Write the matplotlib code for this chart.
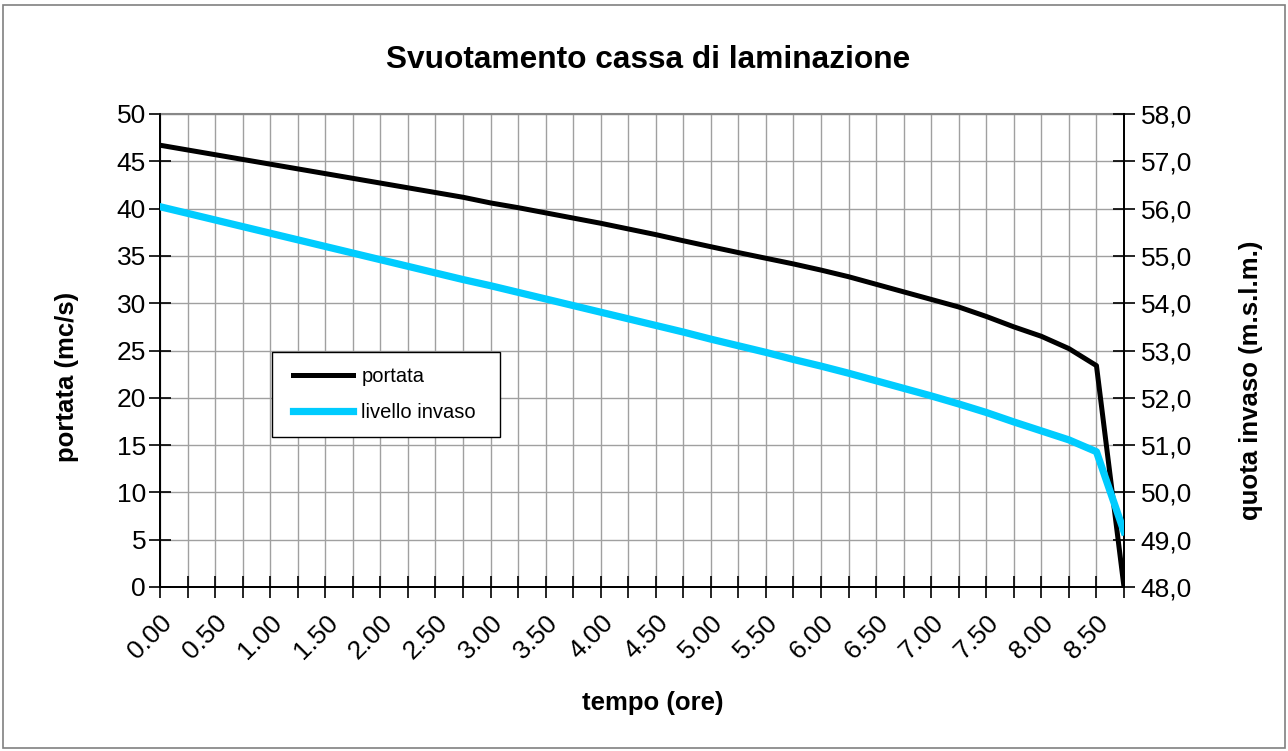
import matplotlib
matplotlib.use("Agg")
import matplotlib.pyplot as plt
from matplotlib.patches import Rectangle
from matplotlib.ticker import FuncFormatter
import numpy as np

plt.rcParams['font.family'] = ['Liberation Sans', 'DejaVu Sans']

# tempo (ore), un punto ogni 0.25 ore
tempo = [0.00, 0.25, 0.50, 0.75, 1.00, 1.25, 1.50, 1.75, 2.00, 2.25, 2.50, 2.75,
         3.00, 3.25, 3.50, 3.75, 4.00, 4.25, 4.50, 4.75, 5.00, 5.25, 5.50, 5.75,
         6.00, 6.25, 6.50, 6.75, 7.00, 7.25, 7.50, 7.75, 8.00, 8.25, 8.50, 8.75]

# portata (mc/s)
portata = [46.7, 46.2, 45.7, 45.2, 44.7, 44.2, 43.7, 43.2, 42.7, 42.2, 41.7, 41.2,
           40.6, 40.1, 39.55, 39.0, 38.45, 37.85, 37.25, 36.6, 35.97, 35.35, 34.75, 34.15,
           33.5, 32.8, 32.0, 31.2, 30.4, 29.6, 28.6, 27.5, 26.5, 25.2, 23.4, 0.0]

# quota invaso (m.s.l.m.)
livello = [56.04, 55.90, 55.76, 55.62, 55.48, 55.34, 55.20, 55.06, 54.92, 54.78, 54.64, 54.50,
           54.37, 54.23, 54.09, 53.95, 53.81, 53.67, 53.53, 53.39, 53.24, 53.10, 52.96, 52.81,
           52.67, 52.52, 52.36, 52.20, 52.04, 51.87, 51.69, 51.49, 51.30, 51.11, 50.86, 49.17]

x = np.arange(len(tempo))
W, H = 1288, 751

fig = plt.figure(figsize=(12.88, 7.51), dpi=100)
ax = fig.add_axes([160/W, 1-587/H, (1124-160)/W, (587-114)/H])
ax2 = ax.twinx()

# bordo esterno del grafico
fig.patches.append(Rectangle((3/W, 3/H), 1282/W, 743/H, transform=fig.transFigure,
                             fill=False, edgecolor='#808080', linewidth=1.2))

l1, = ax.plot(x, portata, color='black', linewidth=3.6, label='portata', zorder=3)
l2, = ax2.plot(x, livello, color='#00CCFF', linewidth=5.2, label='livello invaso', zorder=3)

ax.set_xlim(0, len(tempo) - 1)
ax.set_ylim(0, 50)
ax2.set_ylim(48, 58)
ax.set_yticks(np.arange(0, 51, 5))
ax2.set_yticks(np.arange(48, 58.1, 1))
ax2.yaxis.set_major_formatter(FuncFormatter(lambda v, p: f"{v:.1f}".replace('.', ',')))

ax.set_xticks(x)
ax.set_xticklabels([f"{t:.2f}" if i % 2 == 0 and i < len(tempo) - 1 else "" for i, t in enumerate(tempo)],
                   rotation=45, ha='right', rotation_mode='anchor')

ax.grid(True, color='#a0a0a0', linewidth=1)
ax.set_axisbelow(True)

for a in (ax, ax2):
    a.spines['top'].set_visible(False)
    a.spines['left'].set_linewidth(1.3)
    a.spines['right'].set_linewidth(1.3)
    a.spines['bottom'].set_linewidth(1.3)
ax.spines['top'].set_visible(True)
ax.spines['top'].set_color('#888888')
ax.spines['top'].set_linewidth(1.5)

ax.tick_params(axis='y', direction='inout', length=16, width=1.2, labelsize=19, pad=2)
ax.tick_params(axis='x', direction='inout', length=16, width=1.2, labelsize=19, pad=9)
ax2.tick_params(axis='y', direction='inout', length=16, width=1.2, labelsize=19, pad=4)

ax.set_xlabel('tempo (ore)', fontsize=18.5, fontweight='bold')
ax.set_ylabel('portata (mc/s)', fontsize=18.5, fontweight='bold')
ax2.set_ylabel('quota invaso (m.s.l.m.)', fontsize=18.5, fontweight='bold')
ax.xaxis.set_label_coords((653-160)/964, (587-691)/473)
ax.yaxis.set_label_coords((79-160)/964, (587-377)/473)
ax2.yaxis.set_label_coords((1239-160)/964, (587-380)/473)

fig.text(0.503, 1-60/H, 'Svuotamento cassa di laminazione', fontsize=22.8, fontweight='bold',
         ha='center', va='center')

# riquadro della legenda
ax2.add_patch(Rectangle((272/W, 1-437/H), (500-272)/W, (437-352)/H, transform=fig.transFigure,
                        facecolor='white', edgecolor='black', linewidth=1, zorder=4, clip_on=False))
leg = ax2.legend([l1, l2], ['portata', 'livello invaso'], loc='upper left',
                 bbox_to_anchor=(293/W, 1-367/H), bbox_transform=fig.transFigure,
                 borderaxespad=0, borderpad=0, frameon=False,
                 fontsize=14.5, handlelength=3.0, handletextpad=0.4, labelspacing=0.85)
leg.set_zorder(5)

fig.savefig('out.png', dpi=100)
